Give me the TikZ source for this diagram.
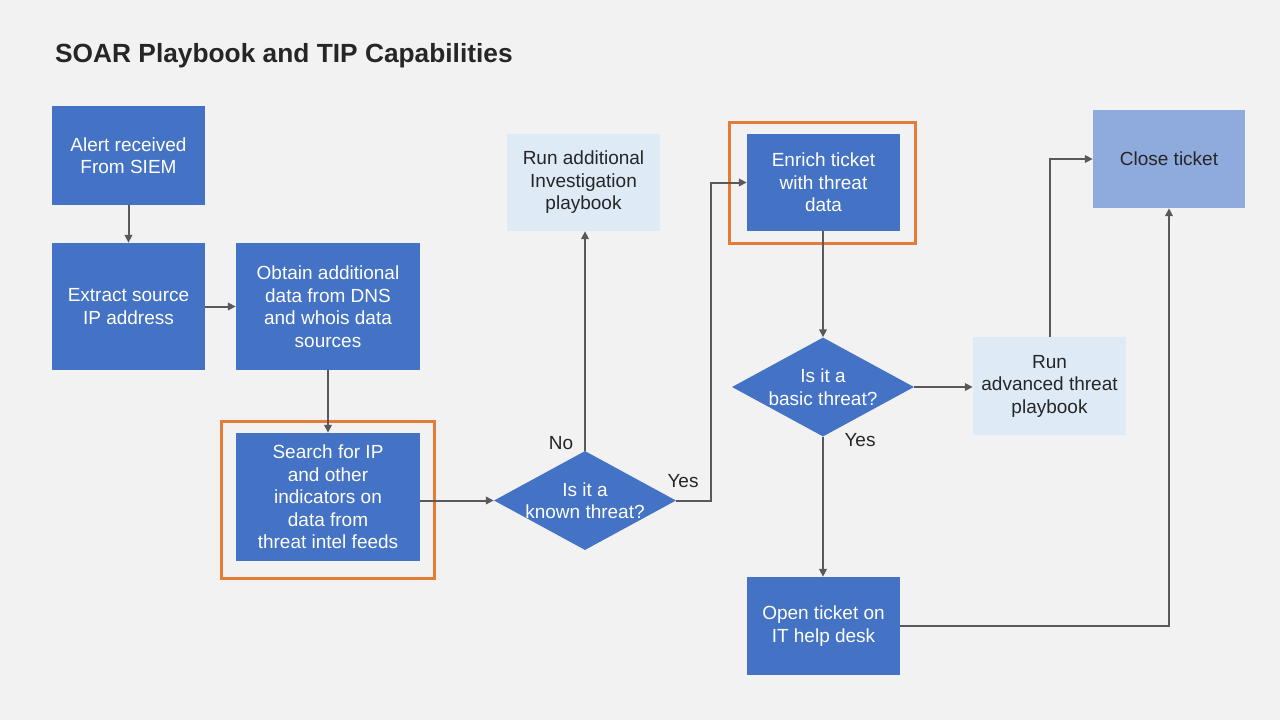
\documentclass[tikz,border=0pt]{standalone}
\usepackage{fontspec}
\setmainfont{Liberation Sans}
\usetikzlibrary{shapes.geometric,arrows.meta}
\definecolor{bg}{HTML}{F2F2F2}
\definecolor{blue1}{HTML}{4472C4}
\definecolor{lightb}{HTML}{DEEAF6}
\definecolor{midb}{HTML}{8FAADC}
\definecolor{orng}{HTML}{E47C37}
\definecolor{conn}{HTML}{595959}
\definecolor{dtext}{HTML}{262626}
\tikzset{
  base/.style={inner sep=0pt, align=center, font=\fontsize{19}{22.5}\selectfont},
  darkbox/.style={base, rectangle, fill=blue1, text=white},
  lightbox/.style={base, rectangle, fill=lightb, text=dtext},
  closebox/.style={base, rectangle, fill=midb, text=dtext},
  decision/.style={diamond, fill=blue1, inner sep=0pt, minimum width=182pt, minimum height=99pt},
  dtxt/.style={base, text=white},
  frame/.style={draw=orng, line width=3pt},
  conn/.style={draw=conn, line width=2pt, -{Triangle[length=8pt,width=7.5pt]}},
  lbl/.style={font=\fontsize{19}{22}\selectfont, text=dtext, inner sep=0pt}
}
\begin{document}
\begin{tikzpicture}[x=1pt,y=-1pt]
\fill[bg] (0,0) rectangle (1280,720);
\useasboundingbox (0,0) rectangle (1280,720);
\node[anchor=base west, inner sep=0pt, font=\fontsize{26.3}{30}\selectfont\bfseries, text=dtext] (title) at (55,62) {SOAR Playbook and TIP Capabilities};

\node[darkbox, minimum width=153pt, minimum height=99pt] (A) at (128.5,155.5) {Alert received\\From SIEM};
\node[darkbox, minimum width=153pt, minimum height=127pt] (B) at (128.5,306.5) {Extract source\\IP address};
\node[darkbox, minimum width=184pt, minimum height=127pt] (C) at (328,306.5) {Obtain additional\\data from DNS\\and whois data\\sources};
\node[darkbox, minimum width=184pt, minimum height=128pt] (D) at (328,497) {Search for IP\\and other\\indicators on\\data from\\threat intel feeds};
\node[frame, draw, minimum width=213pt, minimum height=157pt, inner sep=0pt] (Dframe) at (327.5,499.5) {};
\node[decision] (E) at (585,500.5) {};
\node[dtxt] (Et) at (E.center) {Is it a\\known threat?};
\node[lightbox, minimum width=153pt, minimum height=97pt] (F) at (583.5,182.5) {Run additional\\Investigation\\playbook};
\node[darkbox, minimum width=153pt, minimum height=97pt] (G) at (823.5,182.5) {Enrich ticket\\with threat\\data};
\node[frame, draw, minimum width=186pt, minimum height=121pt, inner sep=0pt] (Gframe) at (822,182.5) {};
\node[decision] (H) at (823,387) {};
\node[dtxt] (Ht) at (H.center) {Is it a\\basic threat?};
\node[lightbox, minimum width=153pt, minimum height=98pt] (I) at (1049.5,386) {Run\\advanced threat\\playbook};
\node[closebox, minimum width=152pt, minimum height=98pt] (J) at (1169,159) {Close ticket};
\node[darkbox, minimum width=153pt, minimum height=98pt] (K) at (823.5,626) {Open ticket on\\IT help desk};

\draw[conn] (A.south) -- (B.north);
\draw[conn] (B.east) -- (C.west);
\draw[conn] (C.south) -- (D.north);
\draw[conn] (D.east |- E.west) -- (E.west);
\draw[conn] (E.north) -- (E.north |- F.south);
\draw[conn] (E.east) -- (711,500.5) |- (G.west);
\draw[conn] (G.south -| H.north) -- (H.north);
\draw[conn] (H.east) -- (I.west |- H.east);
\draw[conn] (H.south) -- (H.south |- K.north);
\draw[conn] (I.north) |- (J.west);
\draw[conn] (K.east) -| (J.south);

\node[lbl] (no) at (561,443) {No};
\node[lbl] (yes1) at (683,481) {Yes};
\node[lbl] (yes2) at (860,440) {Yes};
\end{tikzpicture}
\end{document}
